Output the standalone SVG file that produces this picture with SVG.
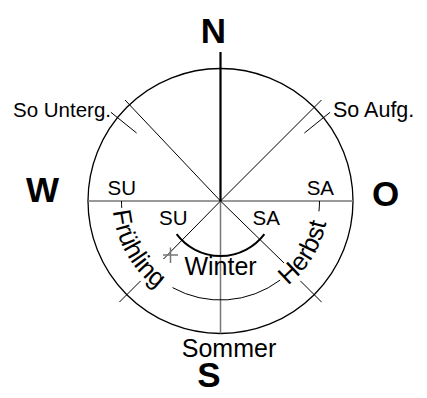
<svg xmlns="http://www.w3.org/2000/svg" width="427" height="398" viewBox="0 0 427 398">
<style>
.t{font-family:"Liberation Sans",Arial,sans-serif;fill:#000}
.s{font-size:20.5px}
.m{font-size:25px}
.b{font-size:35px;font-weight:bold;text-anchor:middle}
.k{stroke:#000;stroke-width:1;fill:none}
.g{stroke:#777;stroke-width:1.5;fill:none}
</style>
<defs>
<path id="seasonPath" d="M112.5,201 A108,108 0 0,0 328.5,201"/>
</defs>
<rect width="427" height="398" fill="#fff"/>
<g id="compass">
<circle cx="220.5" cy="201" r="132.5" fill="none" stroke="#000" stroke-width="1.3"/>
</g>
<g id="connectors">
<path class="g" d="M88,201 H353"/>
<path class="g" d="M220.5,201 V333.5"/>
<path d="M220.5,52 V201" stroke="#000" stroke-width="2.2" fill="none"/>
<path class="k" d="M220.5,201 L125,100 M220.5,201 L321.5,100"/>
<path class="k" d="M110.9,112.3 L136.6,133 M330.1,112.3 L304.4,133"/>
<path class="k" d="M119.4,302.1 L140.6,280.9 M321.6,302.1 L300.4,280.9"/>
<path class="k" d="M220.5,201 L163.5,259 M220.5,201 L284,263"/>
<path class="g" d="M163,255 H178 M170.5,247.5 V263" stroke-width="1.2"/>
<path class="k" d="M121.5,201 A99,99 0 0,0 121.74,207.9 M172.5,287.6 A99,99 0 0,0 280.1,280.1 M318.96,211.35 A99,99 0 0,0 319.5,201"/>
<path d="M176.6,234.1 A55,55 0 0,0 264.4,234.1" stroke="#000" stroke-width="2" fill="none"/>
</g>
<g id="labels">
<text class="t b" x="213.5" y="43">N</text>
<text class="t b" x="42.5" y="202">W</text>
<text class="t b" x="385.5" y="206">O</text>
<text class="t b" x="209" y="387">S</text>
<text class="t s" x="13" y="117">So Unterg.</text>
<text class="t s" x="333" y="117" style="font-size:21.5px">So Aufg.</text>
<text class="t s" x="107.5" y="195">SU</text>
<text class="t s" x="334" y="195" text-anchor="end">SA</text>
<text class="t s" x="159" y="225">SU</text>
<text class="t s" x="252.5" y="225">SA</text>
<text class="t m" x="220.5" y="275" text-anchor="middle">Winter</text>
<text class="t m" x="229" y="357" text-anchor="middle">Sommer</text>
<text class="t m" style="font-size:25.5px"><textPath href="#seasonPath" startOffset="10">Frühling</textPath></text>
<text class="t m" style="font-size:25.5px"><textPath href="#seasonPath" startOffset="242">Herbst</textPath></text>
</g>
</svg>
